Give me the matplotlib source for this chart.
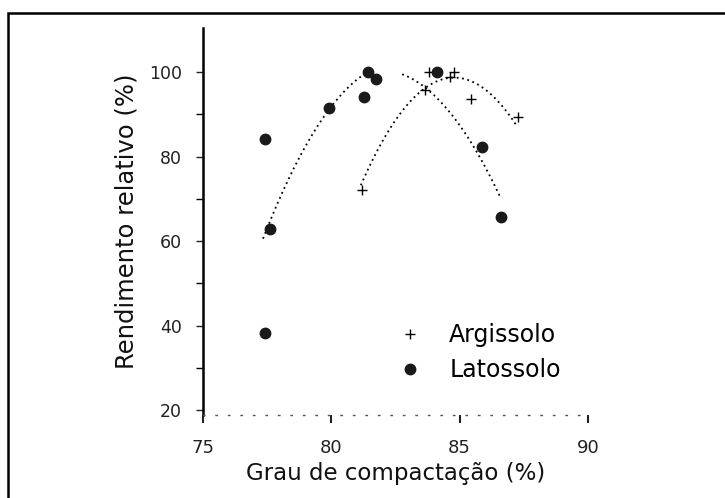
import numpy as np
import matplotlib
matplotlib.use("Agg")
import matplotlib.pyplot as plt
from matplotlib.patches import Rectangle

# Latossolo observed points
lat_x = [77.4, 77.6, 77.4, 79.92, 81.41, 81.73, 81.28, 84.12, 85.86, 86.6]
lat_y = [84.1, 62.8, 38.2, 91.4, 100.0, 98.3, 94.2, 100.0, 82.3, 65.6]

# Argissolo observed points
arg_x = [81.21, 83.64, 83.8, 84.64, 84.79, 85.45, 87.26]
arg_y = [72.1, 95.7, 100.0, 98.9, 100.1, 93.5, 89.4]

# Fitted curves
latL_cx = [77.34, 77.86, 78.89, 79.92, 80.70, 81.21, 81.40]
latL_cy = [60.6, 68.1, 81.5, 91.4, 96.1, 99.05, 100.3]
latR_cx = [82.76, 83.41, 84.45, 85.09, 85.61, 86.12, 86.58]
latR_cy = [99.5, 97.3, 91.8, 86.7, 81.5, 76.0, 70.5]
arg_cx = [81.15, 81.54, 81.93, 82.51, 83.02, 83.67, 84.19, 84.70, 85.22, 85.86, 86.64, 87.22]
arg_cy = [72.9, 78.0, 83.5, 88.6, 93.0, 96.5, 98.1, 98.9, 98.1, 95.7, 91.4, 88.2]

xticks = [75, 80, 85, 90]
yticks = [20, 40, 60, 80, 100]
yminor = [30, 50, 70, 90]

fig = plt.figure(figsize=(7.25, 4.98), dpi=100)
ax = fig.add_axes([0.280, 0.1667, 0.531, 0.777])

def smooth(cx, cy):
    c = np.polyfit(cx, cy, 2)
    xs = np.linspace(min(cx), max(cx), 100)
    return xs, np.polyval(c, xs)

dot = (0, (1, 2))
for cx, cy in [(latL_cx, latL_cy), (latR_cx, latR_cy), (arg_cx, arg_cy)]:
    xs, ys = smooth(cx, cy)
    ax.plot(xs, ys, color='black', linestyle=dot, linewidth=1.3)

ax.plot(arg_x, arg_y, linestyle='none', marker='+', markersize=7,
        markeredgewidth=1.0, color='black', label='Argissolo')
ax.plot(lat_x, lat_y, linestyle='none', marker='o', markersize=7.5,
        color='#1a1a1a', label='Latossolo')

ax.set_xlim(75, 90)
ax.set_ylim(18.82, 110.41)
ax.set_xticks(xticks)
ax.set_yticks(yticks)
ax.set_yticks(yminor, minor=True)

for s in ['top', 'right']:
    ax.spines[s].set_visible(False)
ax.spines['left'].set_linewidth(1.8)
ax.spines['bottom'].set_linewidth(1.0)
ax.spines['bottom'].set_linestyle((0, (1, 8)))
ax.spines['bottom'].set_color('#555555')

ax.tick_params(axis='y', which='major', direction='out', length=5, width=1,
               pad=10, labelsize=12.5, colors='#222222')
ax.tick_params(axis='y', which='minor', direction='out', length=5, width=1)
ax.tick_params(axis='x', which='major', direction='out', length=6, width=1.5,
               pad=11, labelsize=13, colors='#222222')

ax.set_xlabel('Grau de compactação (%)', fontsize=16.5, labelpad=4, color='#111111')
ax.set_ylabel('Rendimento relativo (%)', fontsize=17.5, labelpad=8, color='#111111')

ax.legend(loc='upper left', bbox_to_anchor=(0.465, 0.28), frameon=False,
          fontsize=17, handlelength=1.0, handletextpad=1.15, labelspacing=0.45,
          borderpad=0.2)

fig.patches.append(Rectangle((8 / 725, -0.5), 2.0, 0.5 + 1 - 13 / 498,
                             transform=fig.transFigure, fill=False,
                             linewidth=1.8, edgecolor='black'))

fig.savefig('out.png', dpi=100)
